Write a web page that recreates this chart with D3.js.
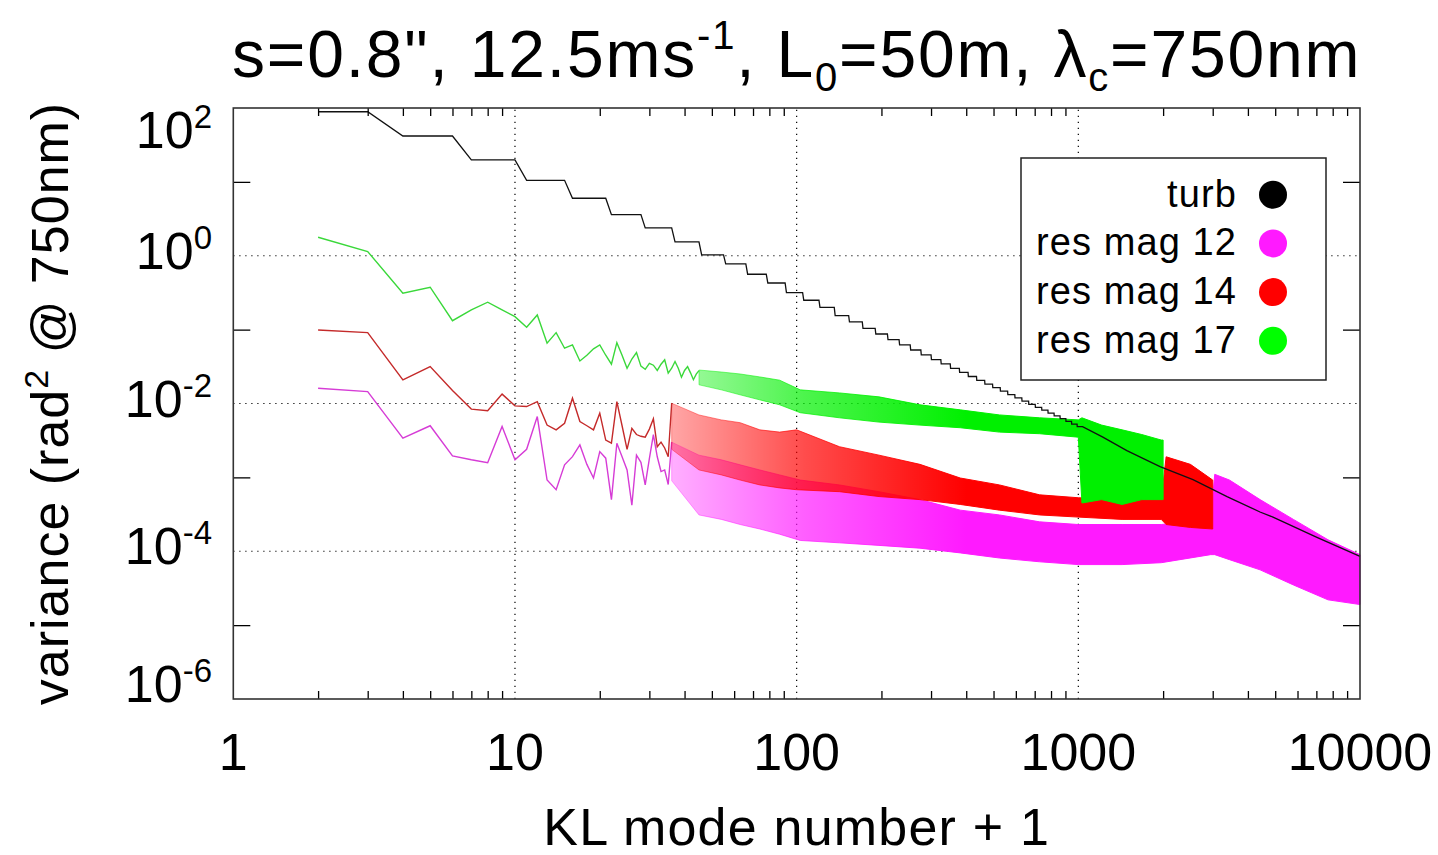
<!DOCTYPE html>
<html>
<head>
<meta charset="utf-8">
<script src="https://cdnjs.cloudflare.com/ajax/libs/d3/7.8.5/d3.min.js"></script>
<style>
    body { margin: 0; background: #fff; }
    text { font-family: "Liberation Sans", Arial, Helvetica, sans-serif; fill: #000; }
</style>
</head>
<body>
<svg id="chart" width="1438" height="855"></svg>
<script>
// ---- data ----
// turbulence: one level per radial order, order n ends at mode turbOrderEnd[n-1]
const turbOrderEnd = [3, 6, 10, 15, 21, 28, 36, 45, 55, 66, 78, 91, 105, 120, 136, 153, 171, 190, 210, 231,
    253, 276, 300, 325, 351, 378, 406, 435, 465, 496, 528, 561, 595, 630, 666, 703, 741, 780, 820, 861,
    903, 946, 990, 1035];
const turbOrderVal = [89, 41.8, 19.8, 10.5, 6.0, 3.6, 2.38, 1.54, 1.03, 0.774, 0.562, 0.428, 0.317, 0.25, 0.2, 0.155,
    0.127, 0.104, 0.0873, 0.0731, 0.0622, 0.053, 0.0456, 0.0393, 0.0343, 0.0299, 0.0264, 0.0232, 0.0206, 0.0183,
    0.0164, 0.0147, 0.0132, 0.0119, 0.0108, 0.00975, 0.00888, 0.00811, 0.00741, 0.00678, 0.00624, 0.00572,
    0.00527, 0.00486];
// past ~1000 modes the steps are too fine to see
const turbTailModes = [1222, 1487, 1950, 2553, 3372, 4416, 4910, 7000, 10000];
const turbTailVals = [0.0035, 0.0023, 0.0014, 0.00093, 0.00055, 0.00034, 0.00029, 0.000155, 0.000085];

// residuals, low modes (one point per mode)
const mag17Modes = d3.range(2, 46);
const mag17Vals = [1.78, 1.14, 0.311, 0.375, 0.132, 0.185, 0.235, 0.185, 0.150, 0.108, 0.158, 0.0655, 0.091, 0.056,
    0.062, 0.0377, 0.045, 0.055, 0.062, 0.045, 0.034, 0.0667, 0.045, 0.030, 0.040, 0.049, 0.032, 0.029, 0.035,
    0.033, 0.028, 0.034, 0.039, 0.0257, 0.030, 0.037, 0.030, 0.0227, 0.028, 0.0316, 0.026, 0.021, 0.025, 0.0279];
const mag14Modes = d3.range(2, 37);
const mag14Vals = [0.099, 0.091, 0.0209, 0.0316, 0.015, 0.0084, 0.0080, 0.0134, 0.0093, 0.0091, 0.0106, 0.0051,
    0.0044, 0.0054, 0.0118, 0.0057, 0.0050, 0.0044, 0.0074, 0.0032, 0.0029, 0.0106, 0.0050, 0.0024, 0.0046,
    0.0038, 0.0036, 0.0035, 0.0045, 0.0062, 0.0026, 0.0030, 0.0025, 0.0019, 0.0101];
const mag12Modes = d3.range(2, 37);
const mag12Vals = [0.0161, 0.0145, 0.0034, 0.0050, 0.00195, 0.00173, 0.00158, 0.0049, 0.00173, 0.0024, 0.00665,
    0.00092, 0.00068, 0.00148, 0.00191, 0.00275, 0.0015, 0.00098, 0.00223, 0.00182, 0.0005, 0.0029, 0.0019,
    0.00126, 0.00042, 0.0020, 0.0016, 0.00079, 0.0018, 0.0038, 0.0019, 0.0012, 0.00126, 0.0008, 0.0030];

// residuals, high modes: too dense to separate, so upper / lower envelope
const band17Modes = [45, 54, 63, 74, 87, 103, 142, 196, 274, 381, 525, 729, 1000, 1030, 1210, 1430, 1680, 1970, 2000];
const band17Hi = [0.0284, 0.0267, 0.0251, 0.0229, 0.0207, 0.0153, 0.0139, 0.0123, 0.0096, 0.0082, 0.0070, 0.0064,
    0.0060, 0.0064, 0.0051, 0.0044, 0.0038, 0.0032, 0.0032];
const band17Lo = [0.0179, 0.0153, 0.0131, 0.0112, 0.0096, 0.0075, 0.0064, 0.0056, 0.0051, 0.0047, 0.0041, 0.0039,
    0.0035, 0.00045, 0.0005, 0.00043, 0.0005, 0.0005, 0.0005];

const band14Modes = [36, 45, 54, 63, 74, 87, 100, 142, 196, 274, 381, 525, 729, 1000, 1430, 1970, 2050, 2500, 3000];
const band14Hi = [0.0101, 0.0070, 0.0060, 0.0055, 0.0044, 0.0041, 0.0044, 0.0026, 0.0020, 0.0015, 0.00098, 0.00079,
    0.00058, 0.00053, 0.0005, 0.0005, 0.0019, 0.0015, 0.00092];
const band14Lo = [0.0024, 0.00126, 0.00108, 0.00092, 0.00079, 0.00072, 0.00068, 0.00064, 0.00055, 0.0005, 0.00043,
    0.00036, 0.00031, 0.00029, 0.00027, 0.00027, 0.00023, 0.00021, 0.00020];

const band12Modes = [36, 45, 54, 63, 74, 87, 103, 142, 196, 274, 381, 525, 729, 1000, 1430, 1970, 2950, 3050, 3440,
    4420, 5800, 7700, 10000];
const band12Hi = [0.0030, 0.0020, 0.00173, 0.00148, 0.00126, 0.00108, 0.00092, 0.00079, 0.00064, 0.0005, 0.00036,
    0.00031, 0.00025, 0.00023, 0.00023, 0.00023, 0.00027, 0.0011, 0.00092, 0.0005, 0.00027, 0.000143, 0.00009];
const band12Lo = [0.0009, 0.00031, 0.00027, 0.00023, 0.0002, 0.00017, 0.00014, 0.00013, 0.00012, 0.00011, 0.000095,
    0.000081, 0.000072, 0.000066, 0.000066, 0.00007, 0.00009, 0.00009, 0.000077, 0.000056, 0.000035, 0.000022,
    0.000019];

const legendNames = ["turb", "res mag 12", "res mag 14", "res mag 17"];
const legendColors = ["#000000", "#ff1aff", "#ff0000", "#00ff00"];
const xTickVals = [1, 10, 100, 1000, 10000];
const yLabelVals = [1e2, 1e0, 1e-2, 1e-4, 1e-6];
const yOddVals = [1e1, 1e-1, 1e-3, 1e-5];

// ---- layout ----
let pLeft = 233.3, pRight = 1360, pTop = 108, pBottom = 699;

let svg = d3.select('#chart');
let defs = svg.append('defs');

let x = d3.scaleLog().domain([1, 10000]).range([pLeft, pRight]);
let y = d3.scaleLog().domain([1e-6, 1e2]).range([pBottom, pTop]);

let plot = svg.append('g');

// dotted grid
let grid = plot.append('g')
    .attr('stroke', '#000')
    .attr('stroke-width', 1.2)
    .attr('stroke-dasharray', '1.2,4.8');
grid.selectAll('line.gx')
    .data([10, 100, 1000]).enter()
    .append('line')
    .attr('x1', d => x(d)).attr('x2', d => x(d))
    .attr('y1', pBottom).attr('y2', pTop);
grid.selectAll('line.gy')
    .data([1e0, 1e-2, 1e-4]).enter()
    .append('line')
    .attr('y1', d => y(d)).attr('y2', d => y(d))
    .attr('x1', pLeft).attr('x2', pRight);

// series
let line = d3.line().x(d => x(d[0])).y(d => y(d[1]));
let area = d3.area().x(d => x(d[0])).y0(d => y(d[1])).y1(d => y(d[2]));

// where the noise is still sparse the band is only partly covered, so fade it in
function bandFill(id, color) {
    let grad = defs.append('linearGradient')
        .attr('id', id)
        .attr('gradientUnits', 'userSpaceOnUse')
        .attr('x1', x(36)).attr('x2', x(400))
        .attr('y1', 0).attr('y2', 0);
    grad.append('stop').attr('offset', 0).attr('stop-color', color).attr('stop-opacity', 0.35);
    grad.append('stop').attr('offset', 0.45).attr('stop-color', color).attr('stop-opacity', 0.7);
    grad.append('stop').attr('offset', 1).attr('stop-color', color).attr('stop-opacity', 1);
    return `url(#${id})`;
}

function drawResidual(id, modes, vals, bModes, bLo, bHi, lineColor, fillColor) {
    let pts = modes.map((m, i) => [m, vals[i]]);
    let band = bModes.map((m, i) => [m, bLo[i], bHi[i]]);
    let fill = bandFill(id, fillColor);
    plot.append('path')
        .datum(band)
        .attr('d', area)
        .attr('fill', fill)
        .attr('stroke', fill)
        .attr('stroke-width', 1);
    plot.append('path')
        .datum(pts)
        .attr('d', line)
        .attr('fill', 'none')
        .attr('stroke', lineColor)
        .attr('stroke-width', 1.4);
}

drawResidual('g12', mag12Modes, mag12Vals, band12Modes, band12Lo, band12Hi, '#d63cd6', '#ff1aff');
drawResidual('g14', mag14Modes, mag14Vals, band14Modes, band14Lo, band14Hi, '#c42a2a', '#ff0000');
drawResidual('g17', mag17Modes, mag17Vals, band17Modes, band17Lo, band17Hi, '#3ad83a', '#00f000');

// turbulence staircase
let turbPts = [];
turbOrderEnd.forEach((end, i) => {
    let start = i === 0 ? 2 : turbOrderEnd[i - 1] + 1;
    turbPts.push([start, turbOrderVal[i]]);
    turbPts.push([end, turbOrderVal[i]]);
});
turbTailModes.forEach((m, i) => turbPts.push([m, turbTailVals[i]]));

plot.append('path')
    .datum(turbPts)
    .attr('d', line)
    .attr('fill', 'none')
    .attr('stroke', '#111')
    .attr('stroke-width', 1.3);

// ticks (minor x on top and bottom, odd decades on y)
let minorX = [];
[1, 10, 100, 1000].forEach(d => d3.range(2, 10).forEach(k => minorX.push(d * k)));

svg.append('g')
    .attr('transform', `translate(0,${pBottom})`)
    .call(d3.axisTop(x).tickValues(minorX).tickSize(8).tickFormat(''))
    .call(g => g.select('.domain').remove());
svg.append('g')
    .attr('transform', `translate(0,${pTop})`)
    .call(d3.axisBottom(x).tickValues(minorX).tickSize(8).tickFormat(''))
    .call(g => g.select('.domain').remove());
svg.append('g')
    .attr('transform', `translate(${pLeft},0)`)
    .call(d3.axisRight(y).tickValues(yOddVals).tickSize(17).tickFormat(''))
    .call(g => g.select('.domain').remove());
svg.append('g')
    .attr('transform', `translate(${pRight},0)`)
    .call(d3.axisLeft(y).tickValues(yOddVals).tickSize(17).tickFormat(''))
    .call(g => g.select('.domain').remove());
svg.selectAll('.tick line').attr('stroke', '#000').attr('stroke-width', 1.3);

// frame
svg.append('rect')
    .attr('x', pLeft).attr('y', pTop)
    .attr('width', pRight - pLeft).attr('height', pBottom - pTop)
    .attr('fill', 'none')
    .attr('stroke', '#333')
    .attr('stroke-width', 1.6);

// x tick labels
svg.append('g')
    .selectAll('text')
    .data(xTickVals).enter()
    .append('text')
    .attr('x', d => x(d))
    .attr('y', 770)
    .attr('text-anchor', 'middle')
    .attr('font-size', 52)
    .text(d => d3.format('d')(d));

// y tick labels 10^n
let yl = svg.append('g')
    .selectAll('text')
    .data(yLabelVals).enter()
    .append('text')
    .attr('x', 212)
    .attr('y', d => Math.min(Math.max(y(d) + 13, pTop + 40), pBottom + 3))
    .attr('text-anchor', 'end')
    .attr('font-size', 52);
yl.append('tspan').text('10');
yl.append('tspan')
    .attr('dy', -20)
    .attr('font-size', 33)
    .text(d => Math.round(Math.log10(d)));

// axis titles
svg.append('text')
    .attr('x', (pLeft + pRight) / 2)
    .attr('y', 845)
    .attr('text-anchor', 'middle')
    .attr('font-size', 52)
    .attr('letter-spacing', 1.2)
    .text('KL mode number + 1');

let ylab = svg.append('text')
    .attr('transform', `translate(68,${(pTop + pBottom) / 2}) rotate(-90)`)
    .attr('text-anchor', 'middle')
    .attr('font-size', 52)
    .attr('letter-spacing', 1);
ylab.append('tspan').text('variance (rad');
ylab.append('tspan').attr('dy', -20).attr('font-size', 34).text('2');
ylab.append('tspan').attr('dy', 20).text(' @ 750nm)');

// title
let title = svg.append('text')
    .attr('x', (pLeft + pRight) / 2)
    .attr('y', 77)
    .attr('text-anchor', 'middle')
    .attr('font-size', 66)
    .attr('letter-spacing', 1.8);
title.append('tspan').text('s=0.8", 12.5ms');
title.append('tspan').attr('dy', -28).attr('font-size', 40).text('-1');
title.append('tspan').attr('dy', 28).text(', L');
title.append('tspan').attr('dy', 14).attr('font-size', 40).text('0');
title.append('tspan').attr('dy', -14).text('=50m, λ');
title.append('tspan').attr('dy', 14).attr('font-size', 40).text('c');
title.append('tspan').attr('dy', -14).text('=750nm');

// legend
let lx = 1021, ly = 158, lw = 305, lh = 222;
let legend = svg.append('g');
legend.append('rect')
    .attr('x', lx).attr('y', ly)
    .attr('width', lw).attr('height', lh)
    .attr('fill', '#fff')
    .attr('stroke', '#222')
    .attr('stroke-width', 1.5);
let rows = legend.selectAll('g')
    .data(legendNames).enter()
    .append('g')
    .attr('transform', (d, i) => `translate(0,${ly + 48.7 + i * 48.7})`);
rows.append('text')
    .attr('x', lx + 216)
    .attr('text-anchor', 'end')
    .attr('font-size', 38)
    .attr('letter-spacing', 1.1)
    .text(d => d);
rows.append('circle')
    .attr('cx', lx + 252)
    .attr('cy', -12)
    .attr('r', 14)
    .attr('fill', (d, i) => legendColors[i]);
</script>
</body>
</html>
